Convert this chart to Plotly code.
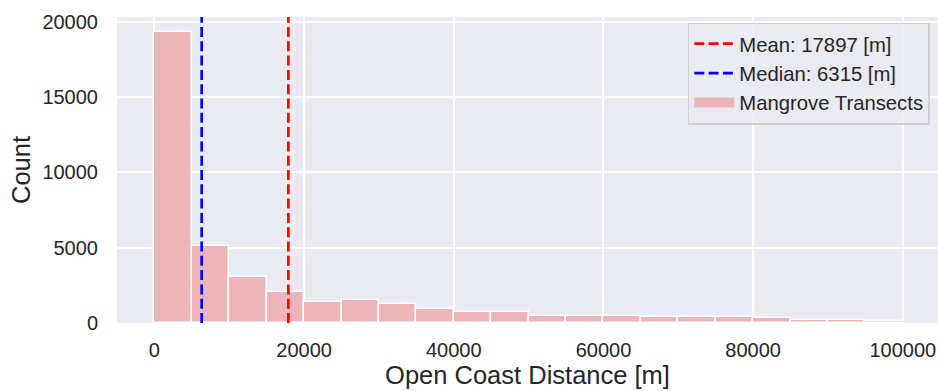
import plotly.graph_objects as go

# ---- data ----
bin_start = 0
bin_width = 5000
counts = [19300, 5085, 3075, 2080, 1380, 1495, 1250, 945, 700, 700,
          485, 485, 485, 400, 400, 400, 305, 220, 220, 155]
bin_left = [bin_start + i * bin_width for i in range(len(counts))]
bin_centers = [b + bin_width / 2 for b in bin_left]

mean_value = 17897
median_value = 6315

x_ticks = [0, 20000, 40000, 60000, 80000, 100000]
y_ticks = [0, 5000, 10000, 15000, 20000]

x_range = [-5000, 104700]
y_range = [0, 20320]

BG = "#EAEAF2"
TEXT = "#262626"
BAR = "#ECB5BA"
FONT = "Liberation Sans, Arial, DejaVu Sans, sans-serif"

fig = go.Figure()

fig.add_trace(go.Scatter(
    x=[mean_value, mean_value], y=[y_range[0], y_range[1]],
    mode="lines", name=f"Mean: {mean_value} [m]",
    line=dict(color="red", width=2.7, dash="10px,4.3px"),
    hoverinfo="skip"))
fig.add_trace(go.Scatter(
    x=[median_value, median_value], y=[y_range[0], y_range[1]],
    mode="lines", name=f"Median: {median_value} [m]",
    line=dict(color="blue", width=2.7, dash="10px,4.3px"),
    hoverinfo="skip"))
# legend entry for the histogram (patch-like swatch)
fig.add_trace(go.Scatter(
    x=[None], y=[None], mode="lines", name="Mangrove Transects",
    line=dict(color=BAR, width=12)))
fig.add_trace(go.Bar(
    x=bin_centers, y=counts, width=[bin_width] * len(counts),
    marker=dict(color=BAR, line=dict(color="white", width=1.5)),
    showlegend=False, name="Mangrove Transects"))

fig.update_layout(
    width=938, height=391, autosize=False,
    margin=dict(l=117, r=0, t=17, b=68),
    paper_bgcolor="white", plot_bgcolor=BG,
    font=dict(family=FONT, color=TEXT, size=20),
    bargap=0,
    legend=dict(
        x=0.99, xanchor="right", y=0.982, yanchor="top",
        bgcolor="rgba(234,234,242,0.8)",
        bordercolor="rgba(204,204,204,0.9)", borderwidth=1.5,
        font=dict(size=20.3, color=TEXT, family=FONT),
        itemwidth=40, traceorder="normal"),
)

fig.update_xaxes(
    range=x_range, tickvals=x_ticks, ticktext=[str(v) for v in x_ticks],
    showgrid=True, gridcolor="white", gridwidth=1.8,
    zeroline=False, showline=False, ticks="",
    ticklabelstandoff=13,
    title=dict(text="Open Coast Distance [m]", font=dict(size=25.5), standoff=5),
)
fig.update_yaxes(
    range=y_range, tickvals=y_ticks, ticktext=[str(v) for v in y_ticks],
    showgrid=True, gridcolor="white", gridwidth=1.8,
    zeroline=False, showline=False, ticks="",
    ticklabelstandoff=18,
    title=dict(text="Count", font=dict(size=25.5), standoff=4),
)

fig.write_html("out.html")
